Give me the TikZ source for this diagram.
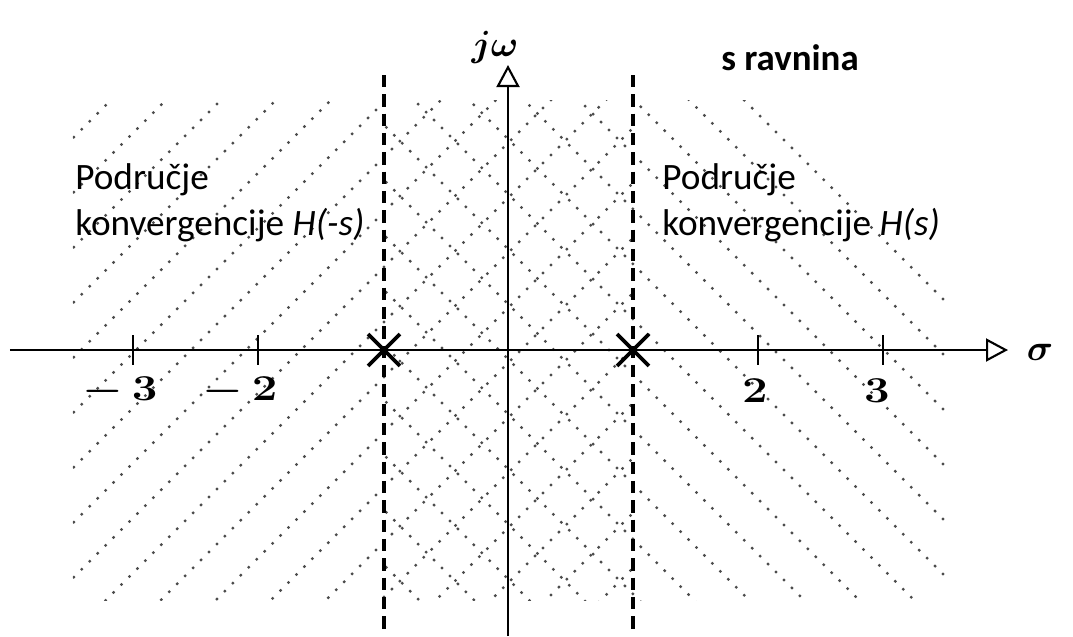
\documentclass[tikz,border=0pt]{standalone}
\usepackage{amsmath}
\usepackage{fontspec}
\newfontfamily\roctext{Carlito}
\usetikzlibrary{arrows.meta,shapes.misc}

\tikzset{
  axis/.style={line width=1.3pt, -{Triangle[open, length=0.44cm, width=0.46cm, line width=1.2pt]}},
  tick/.style={line width=1.3pt},
  hatch/.style={black!70, line width=1.9pt, line cap=round, dash pattern=on 0pt off 6.4pt},
  boundary/.style={line width=2pt, dash pattern=on 7pt off 4pt},
  pole/.style={draw, cross out, line width=2.2pt, minimum size=0.56cm, inner sep=0pt},
  ticklabel/.style={font=\fontsize{22}{26}\selectfont\boldmath, xscale=1.25},
  axislabel/.style={font=\fontsize{21}{25}\selectfont},
  roc/.style={font=\roctext\fontsize{21.2}{26.5}\selectfont, align=left, anchor=north west, inner sep=0pt},
}

\begin{document}
\begin{tikzpicture}

  \useasboundingbox (-10.16,-5.72) rectangle (11.30,7.0);

  % Hatching, region of H(-s)
  \begin{scope}
    \clip (-8.7,-5.0) rectangle (2.5,5.0);
    \foreach \k in {-10,...,10} {
      \pgfmathsetmacro{\c}{3.04+1.1*\k}
      \draw[hatch] (-16,-16+\c) -- (8,8+\c);
    }
  \end{scope}

  % Hatching, region of H(s)
  \begin{scope}
    \clip (-2.5,-5.0) rectangle (8.75,5.0);
    \foreach \k in {-10,...,10} {
      \pgfmathsetmacro{\c}{-1.28+1.1*\k}
      \draw[hatch] (-8,8+\c) -- (16,-16+\c);
    }
  \end{scope}

  % Boundaries of convergence
  \coordinate (lt) at (-2.48,5.5);
  \coordinate (lb) at (-2.48,-5.64);
  \coordinate (rt) at (2.5,5.5);
  \coordinate (rb) at (2.5,-5.64);
  \draw[boundary] (lt) -- (lb);
  \draw[boundary] (rt) -- (rb);

  % Axes
  \coordinate (xmin) at (-9.96,0);
  \coordinate (xmax) at (10.0,0);
  \coordinate (ymin) at (0,-5.72);
  \coordinate (ymax) at (0,5.7);
  \draw[axis] (xmin) -- (xmax);
  \draw[axis] (ymin) -- (ymax);
  \node[axislabel] (sigma) at (10.64,-0.04) {$\boldsymbol{\sigma}$};
  \node[axislabel] (jw) at (-0.26,6.06) {$\boldsymbol{j\omega}$};

  % Ticks
  \foreach \pos/\name in {-7.5/m3, -5/m2, 5/p2, 7.5/p3} {
    \coordinate (\name up) at (\pos,0.3);
    \coordinate (\name dn) at (\pos,-0.3);
    \draw[tick] (\name up) -- (\name dn);
  }
  \node[ticklabel] (lm3) at (-7.76,-0.82) {$-\,3$};
  \node[ticklabel] (lm2) at (-5.36,-0.82) {$-\,2$};
  \node[ticklabel] (lp2) at (4.94,-0.82) {$2$};
  \node[ticklabel] (lp3) at (7.38,-0.82) {$3$};

  % Poles
  \node[pole] (pl) at (-2.48,0) {};
  \node[pole] (pr) at (2.5,0) {};

  % Labels
  \node[roc] (rocl) at (-8.66,3.74) {Područje\\konvergencije \textit{H(-s)}};
  \node[roc] (rocr) at (3.08,3.74) {Područje\\konvergencije \textit{H(s)}};
  \node[font=\roctext\bfseries\fontsize{21}{25}\selectfont] (plane) at (5.64,5.84) {s ravnina};

\end{tikzpicture}
\end{document}
